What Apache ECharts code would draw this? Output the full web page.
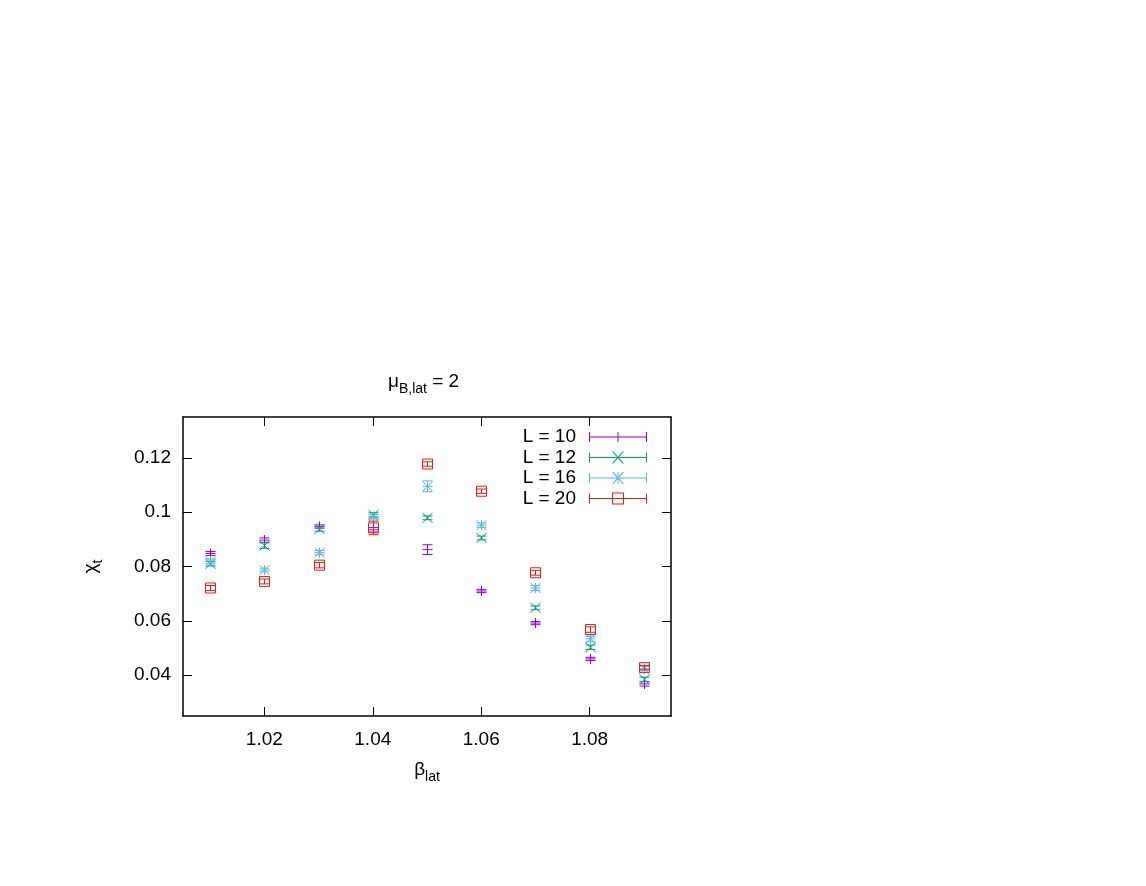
<!DOCTYPE html>
<html>
<head>
<meta charset="utf-8">
<script src="https://cdn.jsdelivr.net/npm/echarts@6/dist/echarts.min.js"></script>
<style>
  html, body { margin: 0; padding: 0; background: #fff; }
  #chart { width: 1146px; height: 886px; }
</style>
</head>
<body>
<div id="chart"></div>
<script>
// beta values (x)
const betas = [1.01, 1.02, 1.03, 1.04, 1.05, 1.06, 1.07, 1.08, 1.09]

// chi_t and errors, per lattice size
const chiL10 = [0.0848, 0.0897, 0.0947, 0.0935, 0.0862, 0.0710, 0.0592, 0.0460, 0.0368]
const errL10 = [0.0007, 0.0008, 0.0006, 0.0008, 0.0018, 0.0006, 0.0006, 0.0006, 0.0008]
const chiL12 = [0.0810, 0.0877, 0.0938, 0.0990, 0.0979, 0.0905, 0.0648, 0.0503, 0.0385]
const errL12 = [0.0008, 0.0010, 0.0008, 0.0008, 0.0007, 0.0007, 0.0007, 0.0008, 0.0008]
const chiL16 = [0.0820, 0.0787, 0.0851, 0.0983, 0.1095, 0.0952, 0.0721, 0.0534, 0.0424]
const errL16 = [0.0008, 0.0007, 0.0008, 0.0008, 0.0020, 0.0008, 0.0009, 0.0009, 0.0008]
const chiL20 = [0.0721, 0.0745, 0.0805, 0.0942, 0.1177, 0.1077, 0.0777, 0.0568, 0.0428]
const errL20 = [0.0009, 0.0009, 0.0010, 0.0025, 0.0008, 0.0008, 0.0009, 0.0010, 0.0008]

const seriesNames = ['L = 10', 'L = 12', 'L = 16', 'L = 20']

// tick labels
const xTicks = [1.02, 1.04, 1.06, 1.08]
const yTicks = [0.04, 0.06, 0.08, 0.1, 0.12]

const FONT = 'Liberation Sans, Arial, sans-serif'
const R = 5 // half size of point / cap

// legend icons: errorbar key line with caps and point in the middle (58 x 12 box)
const keyBase = 'M0,5.5h58v1h-58z M0,1h1v10h-1z M57,1h1v10h-1z '
const keyPlus = 'M28.5,0h1v12h-1z '
const keyCross = 'M23,0L24.4,0L35,12L33.6,12Z M35,0L33.6,0L23,12L24.4,12Z '
const keySquare = 'M23,0h12v12h-12z M24,1v10h10v-10z '
const icons = [
  'path://' + keyBase + 'M28.5,1h1v10h-1z ',
  'path://' + keyBase + keyCross,
  'path://' + keyBase + keyPlus + keyCross,
  'path://' + keyBase + keySquare
]

function seg (x1, y1, x2, y2, color) {
  return {
    type: 'line',
    shape: { x1: x1, y1: y1, x2: x2, y2: y2 },
    style: { stroke: color, lineWidth: 1 }
  }
}

// draws error bar plus gnuplot-like point
function makeRender (shape) {
  return function (params, api) {
    const x = api.value(0)
    const y = api.value(1)
    const e = api.value(2)
    const color = api.visual('color')
    const p = api.coord([x, y])
    const lo = api.coord([x, y - e])
    const hi = api.coord([x, y + e])
    const cx = Math.round(p[0]) + 0.5
    const cy = p[1]
    const kids = [
      seg(cx, lo[1], cx, hi[1], color),
      seg(cx - R, lo[1], cx + R, lo[1], color),
      seg(cx - R, hi[1], cx + R, hi[1], color)
    ]
    if (shape === 'plus' || shape === 'star') {
      kids.push(seg(cx - R, cy, cx + R, cy, color))
      kids.push(seg(cx, cy - R, cx, cy + R, color))
    }
    if (shape === 'cross' || shape === 'star') {
      kids.push(seg(cx - R, cy - R, cx + R, cy + R, color))
      kids.push(seg(cx - R, cy + R, cx + R, cy - R, color))
    }
    if (shape === 'square') {
      kids.push({
        type: 'rect',
        shape: { x: cx - R, y: cy - R, width: 2 * R, height: 2 * R },
        style: { fill: 'none', stroke: color, lineWidth: 1 }
      })
    }
    return { type: 'group', children: kids }
  }
}

function makeSeries (name, color, shape, vals, errs) {
  return {
    name: name,
    type: 'custom',
    xAxisIndex: 0,
    yAxisIndex: 0,
    itemStyle: { color: color },
    encode: { x: 0, y: 1 },
    renderItem: makeRender(shape),
    data: betas.map((b, i) => [b, vals[i], errs[i]])
  }
}

const fmt = v => String(+v.toFixed(3))

const subRich = {
  a: { fontSize: 19, lineHeight: 28, fontFamily: FONT, fontWeight: 'normal', color: '#000' },
  b: { fontSize: 14, lineHeight: 14, verticalAlign: 'bottom', fontFamily: FONT, fontWeight: 'normal', color: '#000' }
}

const chart = echarts.init(document.getElementById('chart'))
const option = {
  animation: false,
  backgroundColor: '#fff',
  title: {
    text: '{a|μ}{b|B,lat}{a| = 2}',
    left: 388,
    top: 368,
    padding: 0,
    textStyle: { fontWeight: 'normal', rich: subRich }
  },
  legend: {
    orient: 'vertical',
    align: 'right',
    right: 499,
    top: 427,
    itemWidth: 58,
    itemHeight: 12,
    itemGap: 0.5,
    padding: 0,
    selectedMode: false,
    itemStyle: { borderWidth: 0 },
    textStyle: { fontSize: 19, fontFamily: FONT, color: '#000', lineHeight: 20, padding: [0, 8, 0, 0] },
    data: seriesNames.map((n, i) => ({ name: n, icon: icons[i] }))
  },
  grid: {
    left: 183,
    right: 475,
    top: 417,
    bottom: 170,
    outerBoundsMode: 'none'
  },
  xAxis: [{
    type: 'value',
    position: 'bottom',
    min: 1.005,
    max: 1.095,
    name: '{a|β}{b|lat}',
    nameLocation: 'middle',
    nameGap: 40,
    nameTextStyle: { rich: subRich },
    axisLine: { show: true, onZero: false, lineStyle: { color: '#000', width: 1.5 } },
    axisTick: { show: true, inside: true, length: 9, customValues: xTicks, lineStyle: { color: '#000' } },
    axisLabel: { customValues: xTicks, formatter: v => v.toFixed(2), fontSize: 19, fontFamily: FONT, color: '#000', margin: 14 },
    splitLine: { show: false }
  }, {
    type: 'value',
    position: 'top',
    min: 1.005,
    max: 1.095,
    axisLine: { show: true, onZero: false, lineStyle: { color: '#000', width: 1.5 } },
    axisTick: { show: true, inside: true, length: 9, customValues: xTicks, lineStyle: { color: '#000' } },
    axisLabel: { show: false },
    splitLine: { show: false }
  }],
  yAxis: [{
    type: 'value',
    position: 'left',
    min: 0.025,
    max: 0.135,
    name: '{a|χ}{b|t}',
    nameLocation: 'middle',
    nameRotate: 90,
    nameGap: 78,
    nameTextStyle: { rich: subRich },
    axisLine: { show: true, onZero: false, lineStyle: { color: '#000', width: 1.5 } },
    axisTick: { show: true, inside: true, length: 9, customValues: yTicks, lineStyle: { color: '#000' } },
    axisLabel: { customValues: yTicks, formatter: fmt, fontSize: 19, fontFamily: FONT, color: '#000', margin: 12 },
    splitLine: { show: false }
  }, {
    type: 'value',
    position: 'right',
    min: 0.025,
    max: 0.135,
    axisLine: { show: true, onZero: false, lineStyle: { color: '#000', width: 1.5 } },
    axisTick: { show: true, inside: true, length: 9, customValues: yTicks, lineStyle: { color: '#000' } },
    axisLabel: { show: false },
    splitLine: { show: false }
  }],
  series: [
    makeSeries(seriesNames[0], '#9400D3', 'plus', chiL10, errL10),
    makeSeries(seriesNames[1], '#009E73', 'cross', chiL12, errL12),
    makeSeries(seriesNames[2], '#56B4E9', 'star', chiL16, errL16),
    makeSeries(seriesNames[3], '#E51E10', 'square', chiL20, errL20)
  ]
}
chart.setOption(option)
</script>
</body>
</html>
